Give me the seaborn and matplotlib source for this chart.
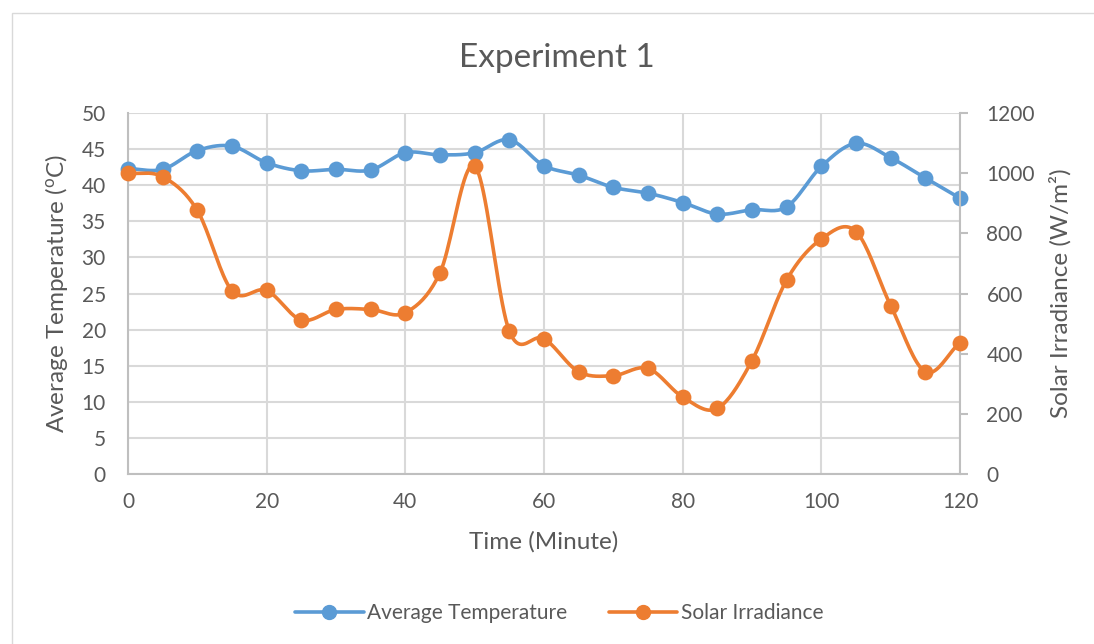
import numpy as np
import pandas as pd
import matplotlib
matplotlib.use("Agg")
import matplotlib.pyplot as plt
from matplotlib.lines import Line2D
from matplotlib.patches import Rectangle
import seaborn as sns

# Measurements every 5 minutes
time_min = [0, 5, 10, 15, 20, 25, 30, 35, 40, 45, 50, 55, 60,
            65, 70, 75, 80, 85, 90, 95, 100, 105, 110, 115, 120]
avg_temp = [42.3, 42.2, 44.8, 45.4, 43.1, 42.0, 42.2, 42.1, 44.5, 44.2, 44.5, 46.3, 42.7,
            41.4, 39.7, 38.9, 37.6, 36.0, 36.6, 37.0, 42.6, 45.8, 43.8, 41.0, 38.2]
solar_irr = [1000, 988, 876, 609, 610, 512, 547, 547, 536, 669, 1024, 475, 450,
             340, 327, 351, 256, 218, 377, 645, 781, 806, 560, 340, 437]

x_ticks = [0, 20, 40, 60, 80, 100, 120]
temp_ticks = list(range(0, 55, 5))
irr_ticks = list(range(0, 1400, 200))

BLUE = "#5B9BD5"
ORANGE = "#ED7D31"
TEXT = "#595959"
GRID = "#D9D9D9"

sns.set_theme(style="white")
plt.rcParams["font.family"] = ["Lato", "DejaVu Sans"]
plt.rcParams["mathtext.fontset"] = "custom"
plt.rcParams["mathtext.rm"] = "Lato"
plt.rcParams["mathtext.it"] = "Lato"


def smooth(x, y, n=20):
    """Catmull-Rom curve through every point (smoothed line rendering)."""
    x = np.asarray(x, float)
    y = np.asarray(y, float)
    px = np.concatenate([[2 * x[0] - x[1]], x, [2 * x[-1] - x[-2]]])
    py = np.concatenate([[2 * y[0] - y[1]], y, [2 * y[-1] - y[-2]]])
    xs, ys = [], []
    t = np.linspace(0, 1, n, endpoint=False)
    for i in range(1, len(px) - 2):
        for arr, out in ((px, xs), (py, ys)):
            p0, p1, p2, p3 = arr[i - 1], arr[i], arr[i + 1], arr[i + 2]
            out.extend(0.5 * ((2 * p1) + (-p0 + p2) * t
                              + (2 * p0 - 5 * p1 + 4 * p2 - p3) * t ** 2
                              + (-p0 + 3 * p1 - 3 * p2 + p3) * t ** 3))
    xs.append(x[-1])
    ys.append(y[-1])
    return np.array(xs), np.array(ys)


df = pd.DataFrame({"time": time_min, "temp": avg_temp, "irr": solar_irr})
tx, ty = smooth(time_min, avg_temp)
ix, iy = smooth(time_min, solar_irr)
temp_curve = pd.DataFrame({"time": tx, "value": ty})
irr_curve = pd.DataFrame({"time": ix, "value": iy})

fig = plt.figure(figsize=(10.94, 6.44), dpi=100)
fig.patches.append(Rectangle((12 / 1094, -0.01), 1.02, 1 - 13 / 644 + 0.01,
                             transform=fig.transFigure, fill=False,
                             edgecolor=GRID, linewidth=1.0))

ax = fig.add_axes([128 / 1094, 1 - 474 / 644, 832 / 1094, 361 / 644])
ax2 = ax.twinx()

# Temperature on left axis
sns.lineplot(data=temp_curve, x="time", y="value", ax=ax, color=BLUE,
             linewidth=2.6, sort=False, estimator=None, zorder=3)
sns.scatterplot(data=df, x="time", y="temp", ax=ax, color=BLUE, s=130,
                edgecolor=BLUE, linewidth=0, zorder=4, clip_on=False)

# Irradiance on right axis
sns.lineplot(data=irr_curve, x="time", y="value", ax=ax2, color=ORANGE,
             linewidth=2.6, sort=False, estimator=None, zorder=3)
sns.scatterplot(data=df, x="time", y="irr", ax=ax2, color=ORANGE, s=130,
                edgecolor=ORANGE, linewidth=0, zorder=4, clip_on=False)

ax.set_xlim(0, 120)
ax.set_ylim(0, 50)
ax2.set_ylim(0, 1200)
ax.set_xticks(x_ticks)
ax.set_yticks(temp_ticks)
ax2.set_yticks(irr_ticks)

ax.grid(True, color=GRID, linewidth=1.5)
ax.set_axisbelow(True)

for a in (ax, ax2):
    a.spines["top"].set_visible(False)
    for s in a.spines.values():
        s.set_color("#BFBFBF")
        s.set_linewidth(1.5)
ax2.spines["left"].set_visible(False)
ax2.spines["bottom"].set_visible(False)
ax.spines["right"].set_visible(False)

ax.tick_params(axis="x", length=0, labelsize=15, colors=TEXT, pad=13)
ax.tick_params(axis="y", length=0, labelsize=15, colors=TEXT, pad=16)
ax2.tick_params(axis="y", length=6, width=1.5, color="#BFBFBF",
                labelsize=15, labelcolor=TEXT, pad=13)

ax.set_xlabel("Time (Minute)", fontsize=17.5, color=TEXT, labelpad=14)
ax.set_ylabel("Average Temperature ($\\mathregular{^{o}}$C)", fontsize=17.5,
              color=TEXT, labelpad=8)
ax2.set_ylabel("Solar Irradiance (W/m²)", fontsize=17.5, color=TEXT, labelpad=10)

fig.text(557 / 1094, 1 - 58 / 644, "Experiment 1", ha="center", va="center",
         fontsize=24, color=TEXT)

handles = [
    Line2D([], [], color=BLUE, linewidth=2.6, marker="o", markersize=10),
    Line2D([], [], color=ORANGE, linewidth=2.6, marker="o", markersize=10),
]
fig.legend(handles, ["Average Temperature", "Solar Irradiance"],
           loc="center", bbox_to_anchor=(559 / 1094, 1 - 613 / 644), ncol=2,
           frameon=False, fontsize=15, labelcolor=TEXT, handlelength=3.3,
           handletextpad=0.15, columnspacing=2.0)

fig.savefig("out.png", dpi=100)
